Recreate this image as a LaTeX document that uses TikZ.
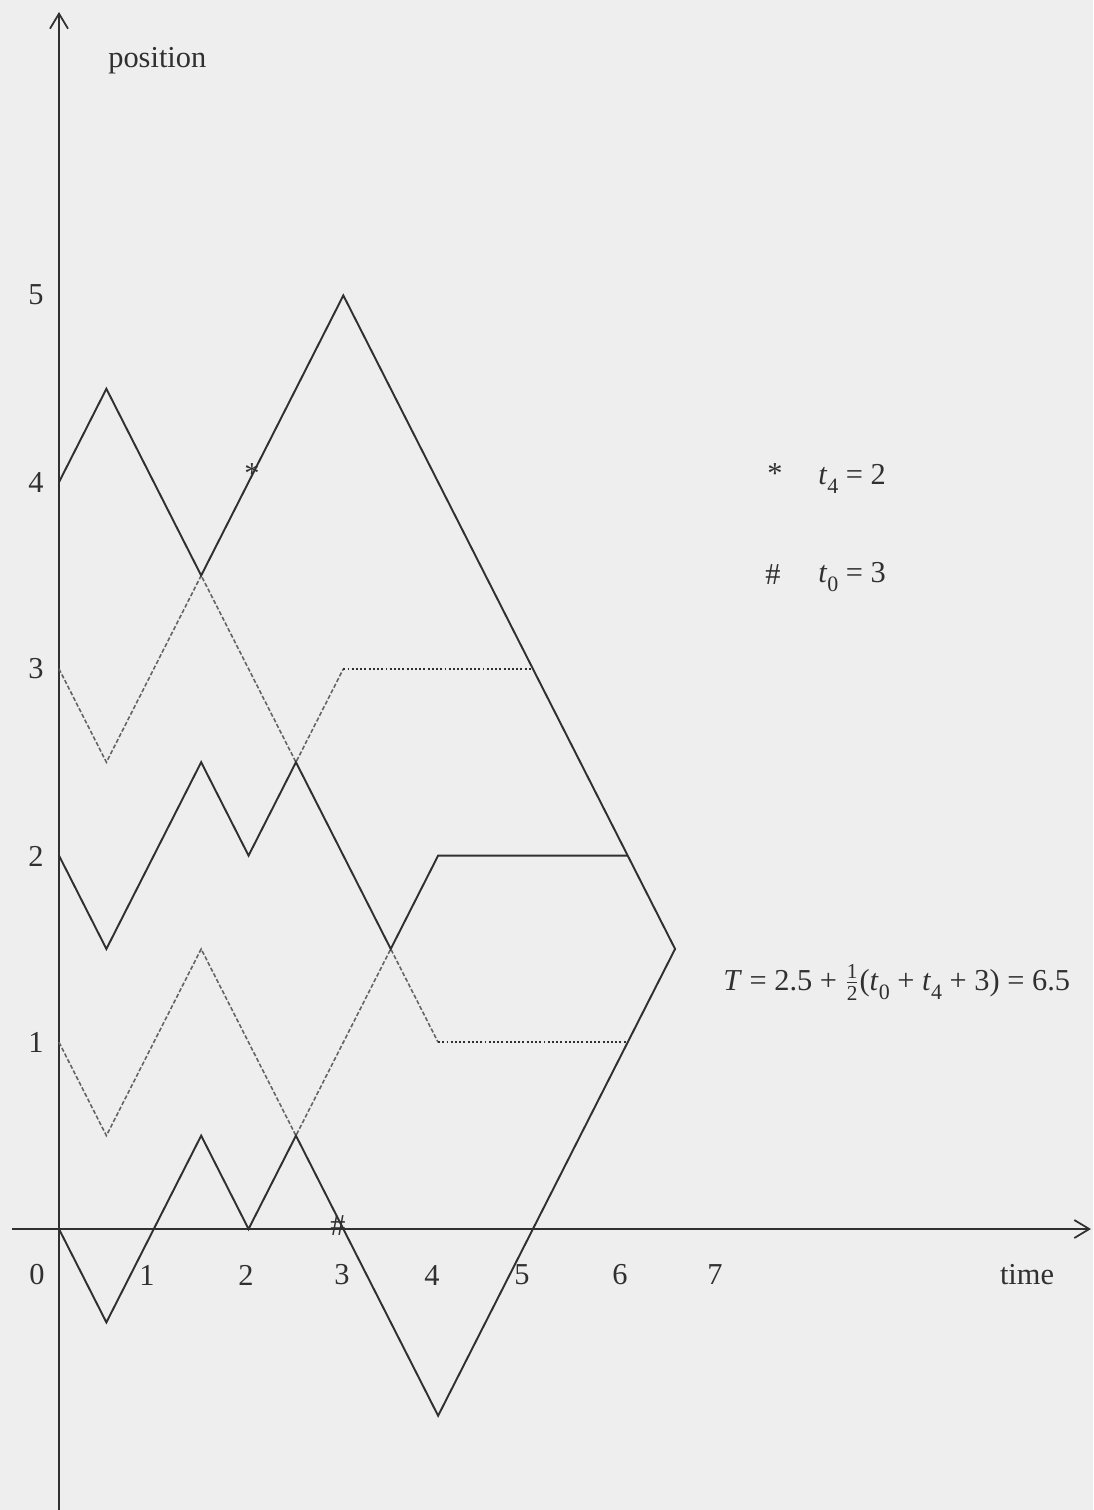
\documentclass[tikz,border=0pt]{standalone}
\usepackage{fontspec}
\setmainfont{Liberation Serif}
\usepackage{amsmath}
\usetikzlibrary{arrows.meta}
\definecolor{bg}{RGB}{238,238,238}
\definecolor{ink}{RGB}{48,48,48}
\definecolor{dashink}{RGB}{100,100,100}
\newcommand{\lowsub}[1]{\raisebox{-0.3em}{\fontsize{12.5}{12.5}\selectfont #1}}
\begin{document}
\begin{tikzpicture}[x=0.02cm,y=-0.02cm,
  lbl/.style={inner sep=0pt, font=\fontsize{17.3}{20}\selectfont, text=ink},
  axis/.style={draw=ink, line width=1pt, -{Straight Barb[length=0.3cm,width=0.36cm]}},
  walk/.style={draw=ink, line width=1.1pt, line join=miter},
  dwalk/.style={draw=dashink, line width=0.9pt, dash pattern=on 2.4pt off 1.2pt},
  dotwalk/.style={draw=ink, line width=1pt, dash pattern=on 1.1pt off 1.3pt}]
\fill[bg] (0,0) rectangle (1093,1510);
\useasboundingbox (0,0) rectangle (1093,1510);
% axes
\coordinate (ybot) at (59,1510);
\coordinate (ytop) at (59,12);
\coordinate (xleft) at (12,1229);
\coordinate (xright) at (1091,1229);
\draw[axis] (ybot) -- (ytop);
\draw[axis] (xleft) -- (xright);
% axis labels
\node[lbl, anchor=base west] (poslbl) at (108,68) {position};
\node[lbl] (timelbl) at (1027,1275) {time};
\node[lbl] (y1) at (36,1042) {1};
\node[lbl] (y2) at (36,856) {2};
\node[lbl] (y3) at (36,669) {3};
\node[lbl] (y4) at (36,482) {4};
\node[lbl] (y5) at (36,295) {5};
\node[lbl] (x0) at (37,1275) {0};
\node[lbl] (x1) at (147,1275) {1};
\node[lbl] (x2) at (246,1275) {2};
\node[lbl] (x3) at (342,1275) {3};
\node[lbl] (x4) at (432,1275) {4};
\node[lbl] (x5) at (522,1275) {5};
\node[lbl] (x6) at (620,1275) {6};
\node[lbl] (x7) at (715,1275) {7};
% walks
\begin{scope}[shift={(59,1229)}, x=1.896cm, y=3.735cm]
  \draw[dwalk] (0,3) -- (0.5,2.5) -- (1.5,3.5) -- (2.5,2.5) -- (3,3);
  \draw[dotwalk] (3,3) -- (5,3);
  \draw[dwalk] (0,1) -- (0.5,0.5) -- (1.5,1.5) -- (2.5,0.5) -- (3.5,1.5) -- (4,1);
  \draw[dotwalk] (4,1) -- (6,1);
  \draw[walk] (0,4) -- (0.5,4.5) -- (1.5,3.5) -- (3,5) -- (6.5,1.5) -- (4,-1)
        -- (3,0) -- (2.5,0.5) -- (2,0) -- (1.5,0.5) -- (0.5,-0.5) -- (0,0);
  \draw[walk] (0,2) -- (0.5,1.5) -- (1.5,2.5) -- (2,2) -- (2.5,2.5) -- (3.5,1.5)
        -- (4,2) -- (6,2);
\end{scope}
% markers
\node[lbl] (star) at (252,474) {*};
\node[lbl] (hash) at (338,1226) {\#};
% legend
\node[lbl] (starleg) at (775,474) {*};
\node[lbl] (hashleg) at (773,575) {\#};
\node[lbl, anchor=base west] (t4leg) at (818,484) {\textit{t}\lowsub{4} = 2};
\node[lbl, anchor=base west] (t0leg) at (818,582) {\textit{t}\lowsub{0} = 3};
\node[lbl, anchor=base west] (formula) at (723,990)
  {\textit{T} = 2.5 + $\frac{\text{1}}{\text{2}}$(\textit{t}\lowsub{0} + \textit{t}\lowsub{4} + 3) = 6.5};
\end{tikzpicture}
\end{document}
